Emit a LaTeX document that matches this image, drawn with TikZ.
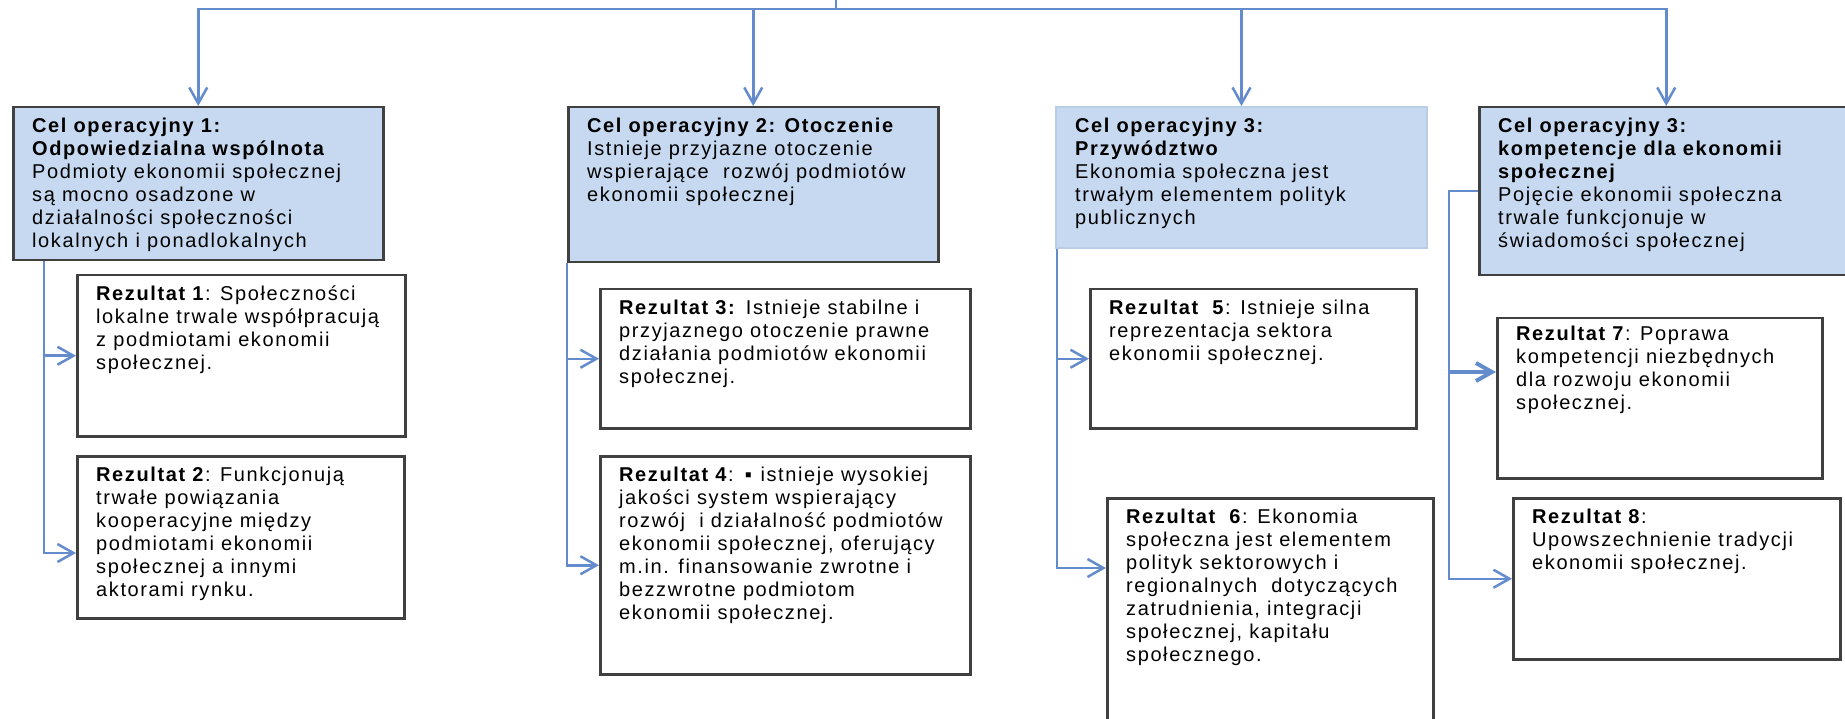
\documentclass[tikz,border=0pt]{standalone}
\usepackage{fontspec}
\setmainfont{Liberation Sans}[LetterSpace=8]
\usetikzlibrary{arrows.meta}

\definecolor{celblue}{RGB}{198,217,241}
\definecolor{cellight}{RGB}{185,205,229}
\definecolor{boxgray}{RGB}{64,64,64}
\definecolor{linkblue}{RGB}{100,140,205}

\begin{document}
\begin{tikzpicture}[x=1pt, y=-1pt,
    celbox/.style={draw=boxgray, line width=2.5pt, fill=celblue, anchor=north west, inner sep=0pt},
    rezbox/.style={draw=boxgray, line width=2.5pt, fill=white, anchor=north west, inner sep=0pt},
    boxtext/.style={anchor=north west, align=left, inner sep=0pt, font=\fontsize{20}{23}\selectfont},
    conn/.style={draw=linkblue, line width=2.5pt},
    arr/.style={conn, -{Straight Barb[length=16pt, width=18pt]}}]
  \useasboundingbox (0,0) rectangle (1845,719);

  \node[celbox, minimum width=370pt, minimum height=153pt] (cel1) at (12,106) {};
  \node[celbox, minimum width=370pt, minimum height=155pt] (cel2) at (567,106) {};
  \node[celbox, draw=cellight, line width=2pt, minimum width=371pt, minimum height=141pt] (cel3) at (1055,106) {};
  \node[celbox, minimum width=374pt, minimum height=168pt] (cel4) at (1478,106) {};

  \node[boxtext] (cel1txt) at ([shift={(20,12)}]cel1.north west) {\textbf{Cel operacyjny 1:}\\ \textbf{Odpowiedzialna wspólnota}\\ Podmioty ekonomii społecznej\\ są mocno osadzone w\\ działalności społeczności\\ lokalnych i ponadlokalnych};
  \node[boxtext] (cel2txt) at ([shift={(20,12)}]cel2.north west) {\textbf{Cel operacyjny 2: Otoczenie}\\ Istnieje przyjazne otoczenie\\ wspierające\ \ rozwój podmiotów\\ ekonomii społecznej};
  \node[boxtext] (cel3txt) at ([shift={(20,12)}]cel3.north west) {\textbf{Cel operacyjny 3:}\\ \textbf{Przywództwo}\\ Ekonomia społeczna jest\\ trwałym elementem polityk\\ publicznych};
  \node[boxtext] (cel4txt) at ([shift={(20,12)}]cel4.north west) {\textbf{Cel operacyjny 3:}\\ \textbf{kompetencje dla ekonomii}\\ \textbf{społecznej}\\ Pojęcie ekonomii społeczna\\ trwale funkcjonuje w\\ świadomości społecznej};

  \node[rezbox, minimum width=328pt, minimum height=161pt] (rez1) at (76,274) {};
  \node[rezbox, minimum width=327pt, minimum height=162pt] (rez2) at (76,455) {};
  \node[rezbox, minimum width=370pt, minimum height=139pt] (rez3) at (599,288) {};
  \node[rezbox, minimum width=370pt, minimum height=218pt] (rez4) at (599,455) {};
  \node[rezbox, minimum width=326pt, minimum height=139pt] (rez5) at (1089,288) {};
  \node[rezbox, minimum width=326pt, minimum height=260pt] (rez6) at (1106,497) {};
  \node[rezbox, minimum width=325pt, minimum height=160pt] (rez7) at (1496,317) {};
  \node[rezbox, minimum width=327pt, minimum height=161pt] (rez8) at (1512,497) {};

  \node[boxtext] (rez1txt) at ([shift={(20,12)}]rez1.north west) {\textbf{Rezultat 1}: Społeczności\\ lokalne trwale współpracują\\ z podmiotami ekonomii\\ społecznej.};
  \node[boxtext] (rez2txt) at ([shift={(20,12)}]rez2.north west) {\textbf{Rezultat 2}: Funkcjonują\\ trwałe powiązania\\ kooperacyjne między\\ podmiotami ekonomii\\ społecznej a innymi\\ aktorami rynku.};
  \node[boxtext] (rez3txt) at ([shift={(20,12)}]rez3.north west) {\textbf{Rezultat 3:} Istnieje stabilne i\\ przyjaznego otoczenie prawne\\ działania podmiotów ekonomii\\ społecznej.};
  \node[boxtext] (rez4txt) at ([shift={(20,12)}]rez4.north west) {\textbf{Rezultat 4}: \textbf{▪} istnieje wysokiej\\ jakości system wspierający\\ rozwój\ \ i działalność podmiotów\\ ekonomii społecznej, oferujący\\ m.in. finansowanie zwrotne i\\ bezzwrotne podmiotom\\ ekonomii społecznej.};
  \node[boxtext] (rez5txt) at ([shift={(20,12)}]rez5.north west) {\textbf{Rezultat\ \ 5}: Istnieje silna\\ reprezentacja sektora\\ ekonomii społecznej.};
  \node[boxtext] (rez6txt) at ([shift={(20,12)}]rez6.north west) {\textbf{Rezultat\ \ 6}: Ekonomia\\ społeczna jest elementem\\ polityk sektorowych i\\ regionalnych\ \ dotyczących\\ zatrudnienia, integracji\\ społecznej, kapitału\\ społecznego.};
  \node[boxtext] (rez7txt) at ([shift={(20,9)}]rez7.north west) {\textbf{Rezultat 7}: Poprawa\\ kompetencji niezbędnych\\ dla rozwoju ekonomii\\ społecznej.};
  \node[boxtext] (rez8txt) at ([shift={(20,12)}]rez8.north west) {\textbf{Rezultat 8}:\\ Upowszechnienie tradycji\\ ekonomii społecznej.};

  \coordinate (hubtop) at (836,0);
  \coordinate (hub) at (836,9);
  \draw[conn] (hubtop) -- (hub);
  \foreach \c in {cel1,cel2,cel3,cel4}
    \draw[arr] (hub) -| (\c.north);

  \coordinate (t1) at (44,553);
  \draw[arr] (cel1.south -| t1) -- (t1) -- (t1 -| rez2.west);
  \draw[arr] (t1 |- rez1.west) -- (rez1.west);

  \draw[arr] (cel2.south west) -- (cel2.south west |- rez4.west) -- (rez4.west);
  \draw[arr] (cel2.south west |- rez3.west) -- (rez3.west);

  \coordinate (t3) at (1057,568);
  \draw[arr] (cel3.south -| t3) -- (t3) -- (t3 -| rez6.west);
  \draw[arr] (t3 |- rez5.west) -- (rez5.west);

  \coordinate (t4) at (1449,372);
  \draw[arr] (cel4.west) -| (t4 |- rez8.west) -- (rez8.west);
  \draw[arr, line width=4pt] (t4) -- (t4 -| rez7.west);
\end{tikzpicture}
\end{document}
